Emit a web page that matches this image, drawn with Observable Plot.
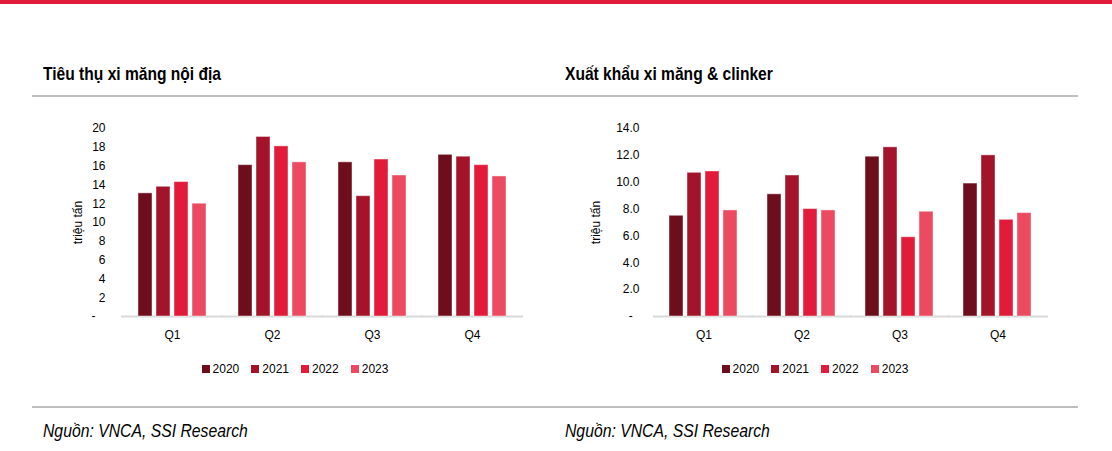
<!DOCTYPE html>
<html>
<head>
<meta charset="utf-8">
<script src="https://cdn.jsdelivr.net/npm/d3@7"></script>
<script src="https://cdn.jsdelivr.net/npm/@observablehq/plot@0.6"></script>
<style>
  html, body { margin: 0; padding: 0; background: #fff; }
  #page { position: relative; width: 1112px; height: 451px; overflow: hidden;
          font-family: 'Liberation Sans', Arial, sans-serif; color: #000; }
  .abs { position: absolute; }
  .topbar { left: 0; top: 0; width: 1112px; height: 4px; background: #e31b3b; }
  .title { font-weight: bold; font-size: 19px; line-height: 19px; white-space: nowrap;
           transform: scaleX(0.82); transform-origin: left center; }
  .rule { height: 2px; background: #bfbfbf; }
  .source { font-style: italic; font-size: 18px; line-height: 18px; white-space: nowrap;
            transform: scaleX(0.875); transform-origin: left center; }
  .legendbox { display: flex; justify-content: center; }
  div.lg-swatches-wrap { justify-content: center; min-height: 0 !important; margin: 0 !important; }
  div.lg-swatches { font-family: 'Liberation Sans', Arial, sans-serif !important; font-size: 12px !important; color: #000; }
  div.lg-swatches span.lg-swatch { margin-right: 12px; }
  div.lg-swatches span.lg-swatch:last-child { margin-right: 0; }
  div.lg-swatches span.lg-swatch > svg { margin-right: 3px; }
</style>
</head>
<body>
<div id="page">
  <div class="abs topbar"></div>
  <div class="abs title" style="left:43px; top:64px;">Tiêu thụ xi măng nội địa</div>
  <div class="abs title" style="left:565px; top:64px;">Xuất khẩu xi măng &amp; clinker</div>
  <div class="abs rule" style="left:32px; top:95px; width:1046px;"></div>
  <div id="chartL" class="abs" style="left:60px; top:115px;"></div>
  <div id="chartR" class="abs" style="left:580px; top:115px;"></div>
  <div id="legL" class="abs legendbox" style="left:60px; top:362px; width:470px;"></div>
  <div id="legR" class="abs legendbox" style="left:580px; top:362px; width:470px;"></div>
  <div class="abs rule" style="left:32px; top:406px; width:1046px;"></div>
  <div class="abs source" style="left:43px; top:422px;">Nguồn: VNCA, SSI Research</div>
  <div class="abs source" style="left:565px; top:422px;">Nguồn: VNCA, SSI Research</div>
</div>
<script>
// ---- Data ----
const quarters = ["Q1", "Q2", "Q3", "Q4"];
const years = ["2020", "2021", "2022", "2023"];
const yearColors = ["#6e0d1b", "#a3142b", "#e11b39", "#ec4a61"];

// Tiêu thụ xi măng nội địa (triệu tấn)
const dom2020 = [13.1, 16.1, 16.4, 17.2];
const dom2021 = [13.8, 19.1, 12.8, 17.0];
const dom2022 = [14.3, 18.1, 16.7, 16.1];
const dom2023 = [12.0, 16.4, 15.0, 14.9];

// Xuất khẩu xi măng & clinker (triệu tấn)
const exp2020 = [7.5, 9.1, 11.9, 9.9];
const exp2021 = [10.7, 10.5, 12.6, 12.0];
const exp2022 = [10.8, 8.0, 5.9, 7.2];
const exp2023 = [7.9, 7.9, 7.8, 7.7];

const domTicks = [0, 2, 4, 6, 8, 10, 12, 14, 16, 18, 20];
const expTicks = [0, 2, 4, 6, 8, 10, 12, 14];

const yLabel = "triệu tấn";

function toRows(series) {
  const rows = [];
  quarters.forEach((q, qi) => {
    years.forEach((yr, yi) => {
      rows.push({quarter: q, year: yr, value: series[yi][qi]});
    });
  });
  return rows;
}

const FONT = "'Liberation Sans', Arial, sans-serif";

function makeChart(rows, cfg) {
  return Plot.plot({
    width: 470,
    height: 240,
    marginLeft: cfg.marginLeft,
    marginRight: cfg.marginRight,
    marginTop: 13,
    marginBottom: 39,
    style: {fontFamily: FONT, fontSize: "12px", color: "#000", background: "transparent", overflow: "visible"},
    fx: {domain: quarters, paddingInner: 0.3, paddingOuter: 0.15, label: null},
    x: {domain: years, paddingInner: 0.2, paddingOuter: 0, axis: null},
    y: {domain: cfg.domain},
    color: {domain: years, range: yearColors},
    marks: [
      Plot.ruleY([0], {stroke: "#d9d9d9", strokeWidth: 2, insetLeft: -16, insetRight: -16}),
      Plot.axisFx({anchor: "bottom", tickSize: 0, tickPadding: 14, label: null}),
      Plot.axisY({
        ticks: cfg.ticks,
        tickSize: 0,
        tickPadding: cfg.tickPadding,
        tickFormat: d => d === 0 ? "-" + cfg.dashPad : cfg.fmt(d),
        label: yLabel,
        labelAnchor: "center",
        labelArrow: "none",
        labelOffset: cfg.labelOffset
      }),
      Plot.barY(rows, {
        fx: "quarter", x: "year", y: "value", fill: "year",
        stroke: "#ffffff", strokeOpacity: 0.45, strokeWidth: 1
      })
    ]
  });
}

function makeLegend() {
  return Plot.legend({
    color: {domain: years, range: yearColors, type: "ordinal"},
    legend: "swatches",
    swatchSize: 8,
    className: "lg",
    style: {fontFamily: FONT, fontSize: "12px"}
  });
}

document.getElementById("chartL").appendChild(makeChart(
  toRows([dom2020, dom2021, dom2022, dom2023]),
  {marginLeft: 62, marginRight: 8, domain: [0, 20], ticks: domTicks, tickPadding: 32,
   dashPad: "\u00a0\u00a0\u00a0", fmt: d3.format("d"), labelOffset: 64}
));
document.getElementById("chartR").appendChild(makeChart(
  toRows([exp2020, exp2021, exp2022, exp2023]),
  {marginLeft: 73, marginRight: 3, domain: [0, 14], ticks: expTicks, tickPadding: 30,
   dashPad: "\u00a0\u00a0", fmt: d3.format(".1f"), labelOffset: 78}
));
document.getElementById("legL").appendChild(makeLegend());
document.getElementById("legR").appendChild(makeLegend());
</script>
</body>
</html>
